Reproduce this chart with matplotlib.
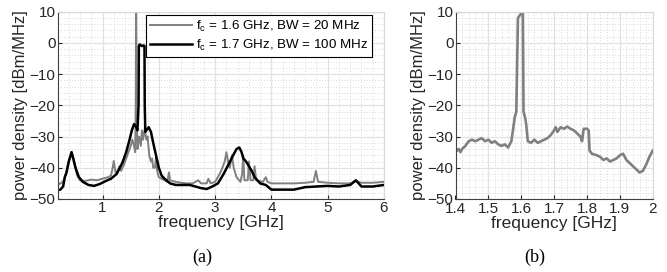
import matplotlib
matplotlib.use("Agg")
import matplotlib.pyplot as plt
from matplotlib.ticker import MultipleLocator

plt.rcParams['font.family'] = ['Liberation Sans', 'DejaVu Sans']

# (a) full span, fc = 1.6 GHz, BW = 20 MHz
f_a1 = [0.2, 0.25, 0.3, 0.35, 0.4, 0.45, 0.5, 0.55, 0.6, 0.7, 0.8, 0.9, 1.0, 1.1, 1.15,
        1.18, 1.2, 1.23, 1.27, 1.3, 1.33, 1.38, 1.42, 1.46, 1.5, 1.53, 1.56, 1.58, 1.59,
        1.595, 1.6, 1.605, 1.62, 1.65, 1.68, 1.7, 1.72, 1.75, 1.78, 1.8, 1.83, 1.86, 1.88,
        1.9, 1.93, 1.95, 1.97, 2.0, 2.05, 2.1, 2.15, 2.18, 2.2, 2.3, 2.4, 2.5, 2.6, 2.7,
        2.75, 2.85, 2.88, 2.92, 3.0, 3.08, 3.13, 3.17, 3.2, 3.23, 3.26, 3.3, 3.33, 3.38,
        3.45, 3.48, 3.5, 3.52, 3.58, 3.6, 3.63, 3.68, 3.7, 3.73, 3.85, 3.9, 3.93, 4.0,
        4.2, 4.4, 4.6, 4.75, 4.79, 4.83, 5.0, 5.2, 5.4, 5.5, 5.6, 5.8, 6.0]
p_a1 = [-45.5, -45, -44.5, -42, -38, -35, -38.5, -42.5, -44, -44.2, -43.8, -44, -43.5, -43, -42.5,
        -40, -37.8, -41.5, -41, -39.5, -41, -39, -37, -35, -33, -31, -33, -35, -20,
        10, 10, -20, -34, -30, -33, -28, -31, -27.5, -31, -30, -36, -38, -37,
        -40, -40, -36.5, -41, -43, -43.5, -44, -44.5, -41.5, -44, -44.5, -44.8, -45, -45, -44,
        -45, -45, -43.5, -45, -44.5, -42, -40, -38, -35, -38, -40, -36, -40, -43,
        -44.5, -42, -36, -44, -44, -38, -44, -44, -39.5, -44, -44.5, -43, -44.5, -45,
        -45, -45, -44.8, -44.5, -41, -44.5, -44.8, -45, -45, -44.3, -44.8, -44.8, -44.5]

# (a) full span, fc = 1.7 GHz, BW = 100 MHz
f_a2 = [0.2, 0.25, 0.3, 0.33, 0.36, 0.4, 0.45, 0.48, 0.52, 0.58, 0.65, 0.75, 0.85, 0.95,
        1.05, 1.15, 1.25, 1.35, 1.42, 1.48, 1.52, 1.56, 1.6, 1.62, 1.64, 1.645, 1.66, 1.7,
        1.73, 1.745, 1.75, 1.76, 1.78, 1.82, 1.86, 1.9, 1.95, 2.0, 2.05, 2.1, 2.2, 2.3,
        2.45, 2.55, 2.65, 2.75, 2.85, 2.95, 3.05, 3.15, 3.25, 3.32, 3.38, 3.43, 3.47, 3.5,
        3.55, 3.6, 3.65, 3.7, 3.8, 3.9, 4.0, 4.2, 4.4, 4.6, 4.8, 5.0, 5.2, 5.4, 5.5, 5.6,
        5.8, 6.0]
p_a2 = [-47.2, -47, -46, -43, -41.5, -38, -35, -37, -40, -43, -44.5, -45.5, -45.8, -45.2,
        -44.3, -43.5, -42, -38.5, -35, -31, -28, -26, -27, -28, -20, -1, -0.5, -1,
        -0.8, -1, -20, -28.5, -28, -27, -28.5, -32, -36, -40, -42.5, -43.5, -45, -45.5,
        -45.5, -45.5, -46, -46.5, -46.8, -46, -45, -42, -38.5, -36, -34, -33.5, -35, -37,
        -38, -39.5, -41, -43, -45, -45.5, -47, -47, -47, -46.2, -46, -45.8, -46, -45.5, -44, -46,
        -46, -45.5]

# (b) zoom around 1.6 GHz carrier
f_b = [1.40, 1.405, 1.41, 1.415, 1.42, 1.43, 1.44, 1.45, 1.46, 1.47, 1.48, 1.49, 1.50, 1.51,
       1.52, 1.53, 1.54, 1.55, 1.56, 1.57, 1.58, 1.585, 1.59, 1.60, 1.605, 1.607, 1.612,
       1.615, 1.62, 1.63, 1.64, 1.65, 1.66, 1.67, 1.68, 1.69, 1.70, 1.705, 1.71, 1.72, 1.73,
       1.74, 1.75, 1.76, 1.77, 1.78, 1.785, 1.79, 1.80, 1.805, 1.808, 1.815, 1.83, 1.84,
       1.85, 1.86, 1.87, 1.88, 1.89, 1.90, 1.91, 1.92, 1.93, 1.94, 1.95, 1.96, 1.97, 1.975,
       1.98, 1.99, 2.0]
p_b = [-33.5, -34.5, -34, -35, -34, -33, -31.5, -31, -31.5, -31, -30.5, -31.5, -31, -32,
       -31.5, -32.5, -33, -32.5, -33.5, -31.5, -24, -22, 8, 9.5, 10, -22, -24,
       -26, -31.5, -32, -31, -32, -31.5, -31, -30.5, -29.5, -28, -27, -28.5, -27, -27.5,
       -26.8, -27.5, -28, -29, -30, -31.5, -27.5, -27.5, -28, -34.5, -35.5, -36, -36.5,
       -37.5, -37, -38, -37.5, -37, -36, -35.5, -37.5, -38.5, -39.5, -40.5, -41.5, -41, -40,
       -39, -36.5, -34.5]

labels = ['f$_\\mathregular{c}$ = 1.6 GHz, BW = 20 MHz', 'f$_\\mathregular{c}$ = 1.7 GHz, BW = 100 MHz']

fig = plt.figure(figsize=(6.67, 2.72), dpi=100)
ax1 = fig.add_axes([57.5 / 667, 1 - 199 / 272, (384 - 57.5) / 667, (199 - 11.7) / 272])
ax2 = fig.add_axes([455.5 / 667, 1 - 199 / 272, (652.7 - 455.5) / 667, (199 - 11.7) / 272])

txt = '#262626'


def style(ax, xmaj, xmin):
    ax.set_ylim(-50, 10)
    ax.yaxis.set_major_locator(MultipleLocator(10))
    ax.yaxis.set_minor_locator(MultipleLocator(2))
    ax.xaxis.set_major_locator(MultipleLocator(xmaj))
    ax.xaxis.set_minor_locator(MultipleLocator(xmin))
    ax.grid(which='major', color='#e2e2e2', lw=0.9, ls='-')
    ax.grid(which='minor', color='#b8b8b8', lw=0.5, ls=(0, (1, 3)))
    ax.set_axisbelow(True)
    ax.tick_params(which='major', direction='in', length=3, width=0.8, colors=txt,
                   labelsize=11, top=False, right=False, pad=1.5)
    ax.tick_params(which='minor', length=0)
    for s in ['left', 'bottom']:
        ax.spines[s].set_color('#404040')
        ax.spines[s].set_linewidth(0.8)
    for s in ['top', 'right']:
        ax.spines[s].set_color('#d8d8d8')
        ax.spines[s].set_linewidth(0.8)
    ax.set_xlabel('frequency [GHz]', fontsize=12.5, color=txt, labelpad=0)
    ax.set_ylabel('power density [dBm/MHz]', fontsize=12, color=txt, labelpad=1)


ax1.plot(f_a1, p_a1, color='#808080', lw=1.4, label=labels[0])
ax1.plot(f_a2, p_a2, color='black', lw=1.8, label=labels[1])
ax1.set_xlim(0.2, 6)
style(ax1, 1, 0.2)
ax1.set_xticks([1, 2, 3, 4, 5, 6])
leg = ax1.legend(loc='upper right', bbox_to_anchor=(372 / 667, 1 - 15 / 272),
                 bbox_transform=fig.transFigure, fontsize=9.6, fancybox=False,
                 framealpha=1, edgecolor='black', handlelength=3.2, borderpad=0.3,
                 labelspacing=0.25, handletextpad=0.25, borderaxespad=0)
leg.get_frame().set_linewidth(0.8)

ax2.plot(f_b, p_b, color='#808080', lw=1.9)
ax2.set_xlim(1.4, 2.0)
style(ax2, 0.1, 0.02)
ax2.tick_params(axis='x', pad=2.5)
ax2.set_xticks([1.4, 1.5, 1.6, 1.7, 1.8, 1.9, 2.0])
ax2.set_xticklabels(['1.4', '1.5', '1.6', '1.7', '1.8', '1.9', '2'])

fig.text(202 / 667, 1 - 257 / 272, '(a)', family='Liberation Serif', fontsize=13,
         ha='center', va='center')
fig.text(535 / 667, 1 - 257 / 272, '(b)', family='Liberation Serif', fontsize=13,
         ha='center', va='center')

fig.savefig('out.png', dpi=100)
